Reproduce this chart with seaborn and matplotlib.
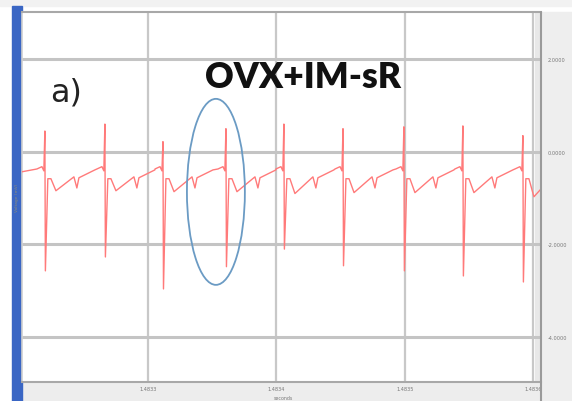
import matplotlib
matplotlib.use("Agg")
import matplotlib.pyplot as plt
from matplotlib.patches import Ellipse, Rectangle
import numpy as np
import pandas as pd
import seaborn as sns

# ---- recorded beats -------------------------------------------------------
r_times = [0.198, 0.665, 1.117, 1.607, 2.058, 2.518, 2.992, 3.451, 3.918]   # s
r_peaks = [0.45, 0.60, 0.22, 0.50, 0.60, 0.50, 0.54, 0.56, 0.35]            # mV
s_troughs = [-2.57, -2.27, -2.96, -2.48, -2.10, -2.46, -2.57, -2.68, -2.81]  # mV
t_dips = [-0.84, -0.84, -0.86, -0.86, -0.90, -0.88, -0.88, -0.88, -0.97]     # mV

# beat shape around each R wave: time offset (s) and level (mV)
pre_offsets = [-0.062, -0.023, -0.008]
pre_levels = [-0.37, -0.32, -0.41]
post_offsets = [0.023, 0.047, 0.086, 0.226, 0.249, 0.265, 0.389]
post_levels = [-0.58, -0.58, None, -0.54, -0.78, -0.56, -0.39]

trace_start = (0.02, -0.43)

y_ticks = [2.0, 0.0, -2.0, -4.0]
y_tick_labels = ["2.0000", "0.0000", "-2.0000", "-4.0000"]
x_ticks = [1.0, 2.0, 3.0, 4.0]
x_tick_labels = ["1.4833", "1.4834", "1.4835", "1.4836"]

# ---- assemble the trace ---------------------------------------------------
t_pts, v_pts = [trace_start[0]], [trace_start[1]]
for rt, rp, st, td in zip(r_times, r_peaks, s_troughs, t_dips):
    for o, lv in zip(pre_offsets, pre_levels):
        t_pts.append(rt + o); v_pts.append(lv)
    t_pts += [rt, rt + 0.004]
    v_pts += [rp, st]
    for o, lv in zip(post_offsets, post_levels):
        t_pts.append(rt + o); v_pts.append(td if lv is None else lv)
trace = pd.DataFrame({"time": t_pts, "mv": v_pts})

# ---- figure ----------------------------------------------------------------
W, H = 572, 402
sns.set_style("white")
fig = plt.figure(figsize=(W / 100, H / 100), dpi=100)
fig.patch.set_facecolor("white")

def fx(px):
    return px / W

def fy(py):
    return 1 - py / H

# window chrome: top strip, right value panel, bottom time panel, blue bar
fig.patches.append(Rectangle((0, fy(7)), 1, 7 / H, transform=fig.transFigure,
                             color="#f2f2f2", zorder=0))
fig.patches.append(Rectangle((fx(541), 0), (W - 541) / W, fy(13), transform=fig.transFigure,
                             color="#eeeeee", zorder=0))
fig.patches.append(Rectangle((fx(22), 0), (541 - 22) / W, fy(383), transform=fig.transFigure,
                             color="#ededed", zorder=0))
fig.patches.append(Rectangle((fx(12), 0), 10 / W, fy(7), transform=fig.transFigure,
                             color="#3a66c4", zorder=1))

ax = fig.add_axes([fx(22), fy(383), (541 - 22) / W, (383 - 13) / H])
ax.set_zorder(2)
ax.set_facecolor("white")

# shaded strip along the right edge of the plot panel
ax.add_patch(Rectangle((1 - 6 / 519, 0), 6 / 519, 1, transform=ax.transAxes,
                       color="#e8e8e8", zorder=0.5, linewidth=0))

sns.lineplot(data=trace, x="time", y="mv", sort=False, estimator=None,
             color="#ff7a7a", linewidth=1.0, ax=ax, zorder=3)

ax.set_xlim(0.02, 4.059)
ax.set_ylim(-4.97, 3.02)

ax.set_yticks(y_ticks)
ax.set_yticklabels(y_tick_labels)
ax.yaxis.tick_right()
ax.set_xticks(x_ticks)
ax.set_xticklabels(x_tick_labels)
ax.tick_params(axis="both", length=0, labelsize=3.6, labelcolor="#777777")
ax.tick_params(axis="y", pad=5)
ax.tick_params(axis="x", pad=3)
ax.set_xlabel("")
ax.set_ylabel("")

ax.grid(True, axis="y", color="#c4c4c4", linewidth=2.2, zorder=1)
ax.grid(True, axis="x", color="#c8c8c8", linewidth=1.6, zorder=1)
ax.set_axisbelow(True)

for side in ["top", "bottom"]:
    ax.spines[side].set_color("#a8a8a8")
    ax.spines[side].set_linewidth(1.5)
ax.spines["left"].set_color("#d0d0d0")
ax.spines["left"].set_linewidth(1.2)
ax.spines["right"].set_visible(False)

# right border of the plot panel
fig.lines.append(plt.Line2D([fx(541), fx(541)], [0, fy(13)], transform=fig.transFigure,
                            color="#9a9a9a", linewidth=1.5, zorder=3))

# highlighted beat
ax.add_patch(Ellipse((1.529, -0.864), 0.451, 4.017, fill=False,
                     edgecolor="#6b9bc4", linewidth=1.3, zorder=4))

# labels
fig.text(fx(50), fy(101), "a)", fontsize=23, color="#222222",
         family=["DejaVu Sans"], va="baseline", ha="left", zorder=5)
fig.text(fx(205), fy(88), "OVX+IM-sR", fontsize=25.5, color="#111111",
         family=["Lato"], fontweight="heavy", va="baseline", ha="left", zorder=5)
fig.text(fx(283), fy(400), "seconds", fontsize=3.4, color="#777777",
         va="baseline", ha="center", zorder=5)
fig.text(fx(17), fy(198), "Voltage (mV)", fontsize=3.2, color="#8c8c7a",
         rotation=90, va="center", ha="center", zorder=5)

fig.savefig("out.png", dpi=100)
